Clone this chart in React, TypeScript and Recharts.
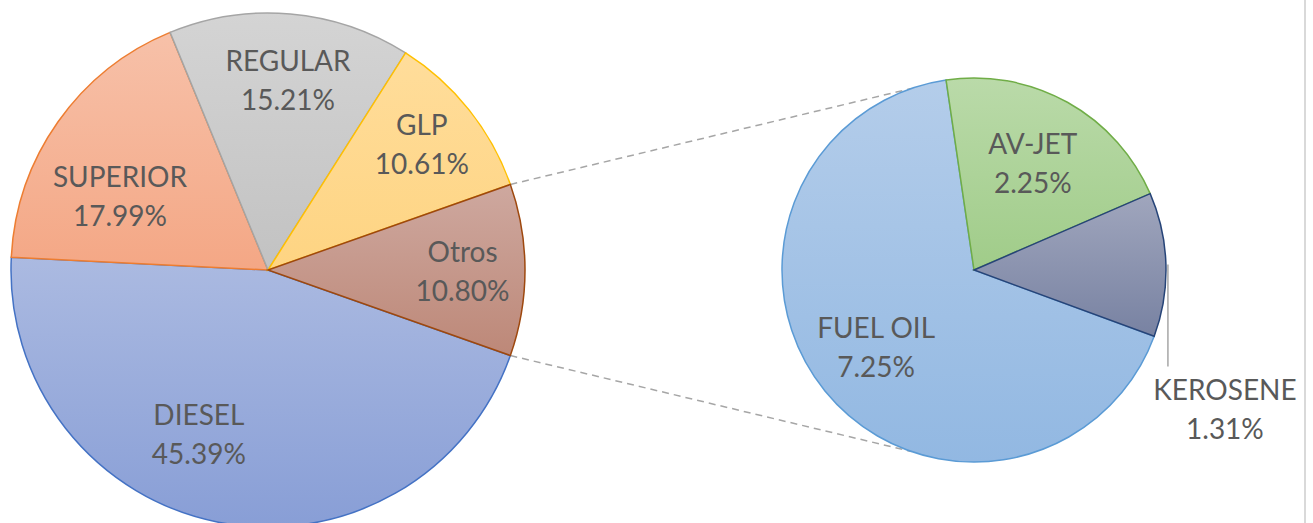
import { PieChart, Pie, Cell, Customized } from "recharts";

// main pie, clockwise from the lower edge of the "Otros" slice (Otros drawn last)
const mainNames = ["DIESEL", "SUPERIOR", "REGULAR", "GLP", "Otros"];
const mainValues = [45.39, 17.99, 15.21, 10.61, 10.8];

// breakdown of "Otros", clockwise from the lower right
const otrosNames = ["FUEL OIL", "AV-JET", "KEROSENE"];
const otrosValues = [7.25, 2.25, 1.31];

const mainData = mainNames.map((name, i) => ({ name, value: mainValues[i] }));
const otrosData = otrosNames.map((name, i) => ({ name, value: otrosValues[i] }));

const W = 1313;
const H = 523;
const LEFT = { cx: 268, cy: 270, r: 257 };
const RIGHT = { cx: 974, cy: 270, r: 192 };

const mainTotal = mainValues.reduce((a, b) => a + b, 0);
const otrosHalf = ((mainValues[mainValues.length - 1] / mainTotal) * 360) / 2;
const rightStart = -20.2;
const linkAngle = 109;

const TEXT = "#595959";
const FONT = "Lato, 'Open Sans', sans-serif";

// [gradient top, gradient bottom, outline]
const colors: Record<string, [string, string, string]> = {
  DIESEL: ["#abbae1", "#889ed6", "#4472c4"],
  SUPERIOR: ["#f7c1a9", "#f4a785", "#ed7d31"],
  REGULAR: ["#d4d4d4", "#c2c2c2", "#a5a5a5"],
  GLP: ["#ffdd9b", "#fed482", "#ffc000"],
  Otros: ["#cea89f", "#bd8878", "#9e480e"],
  "FUEL OIL": ["#b4cdea", "#92b8e2", "#5b9bd5"],
  "AV-JET": ["#badaa9", "#a0cc89", "#70ad47"],
  KEROSENE: ["#a0a6bd", "#7882a2", "#264478"],
};

// where each label sits: extra turn from the slice middle, share of the radius
const labelAt: Record<string, { turn: number; k: number }> = {
  Otros: { turn: 0, k: 0.757 },
  DIESEL: { turn: -11.8, k: 0.69 },
  SUPERIOR: { turn: 8.5, k: 0.645 },
  REGULAR: { turn: -1, k: 0.747 },
  GLP: { turn: 0.9, k: 0.775 },
  "AV-JET": { turn: 0.5, k: 0.64 },
  "FUEL OIL": { turn: -1.3, k: 0.645 },
};

const RAD = Math.PI / 180;
const polar = (cx: number, cy: number, r: number, deg: number) => ({
  x: cx + r * Math.cos(deg * RAD),
  y: cy - r * Math.sin(deg * RAD),
});

function TwoLines({ x, y, name, value }: { x: number; y: number; name: string; value: number }) {
  return (
    <g>
      <text x={x} y={y - 19} textAnchor="middle" dominantBaseline="central"
        fill={TEXT} fontFamily={FONT} fontSize={28}>{name}</text>
      <text x={x} y={y + 20} textAnchor="middle" dominantBaseline="central"
        fill={TEXT} fontFamily={FONT} fontSize={28}>{`${value.toFixed(2)}%`}</text>
    </g>
  );
}

function renderLabel(props: any) {
  const { cx, cy, midAngle, outerRadius, value } = props;
  const name: string = props.payload?.name ?? props.name;
  if (name === "KEROSENE") {
    const edge = polar(cx, cy, outerRadius, midAngle);
    const drop = 102;
    return (
      <g>
        <line x1={edge.x + 2} y1={edge.y} x2={edge.x + 2} y2={edge.y + drop}
          stroke="#a6a6a6" strokeWidth={1.5} />
        <TwoLines x={edge.x + 59} y={edge.y + drop + 41} name={name} value={value} />
      </g>
    );
  }
  const at = labelAt[name] ?? { turn: 0, k: 0.65 };
  const p = polar(cx, cy, outerRadius * at.k, midAngle + at.turn);
  return <TwoLines x={p.x} y={p.y} name={name} value={value} />;
}

function SeriesLines() {
  const a = polar(LEFT.cx, LEFT.cy, LEFT.r, otrosHalf);
  const b = polar(LEFT.cx, LEFT.cy, LEFT.r, -otrosHalf);
  const c = polar(RIGHT.cx, RIGHT.cy, RIGHT.r, linkAngle);
  const d = polar(RIGHT.cx, RIGHT.cy, RIGHT.r, -linkAngle);
  return (
    <g>
      <line x1={a.x} y1={a.y} x2={c.x} y2={c.y} stroke="#a6a6a6" strokeWidth={1.5} strokeDasharray="7 5" />
      <line x1={b.x} y1={b.y} x2={d.x} y2={d.y} stroke="#a6a6a6" strokeWidth={1.5} strokeDasharray="7 5" />
      <line x1={1305} y1={0} x2={1305} y2={H} stroke="#d9d9d9" strokeWidth={2} />
    </g>
  );
}

export default function App() {
  return (
    <div style={{ position: "absolute", left: 0, top: 0, width: W, height: H, background: "#fff" }}>
      <PieChart width={W} height={H} margin={{ top: 0, right: 0, bottom: 0, left: 0 }}>
        <defs>
          {Object.entries(colors).map(([k, [top, bottom]]) => (
            <linearGradient key={k} id={`g-${k.replace(/\W/g, "")}`} x1="0" y1="0" x2="0" y2="1">
              <stop offset="0%" stopColor={top} />
              <stop offset="100%" stopColor={bottom} />
            </linearGradient>
          ))}
        </defs>
        <Customized component={SeriesLines} />
        <Pie data={mainData} dataKey="value" nameKey="name" cx={LEFT.cx} cy={LEFT.cy}
          outerRadius={LEFT.r} startAngle={-otrosHalf} endAngle={-otrosHalf - 360}
          label={renderLabel} labelLine={false} isAnimationActive={false}>
          {mainData.map((d) => (
            <Cell key={d.name} fill={`url(#g-${d.name.replace(/\W/g, "")})`}
              stroke={colors[d.name][2]} strokeWidth={1.5} />
          ))}
        </Pie>
        <Pie data={otrosData} dataKey="value" nameKey="name" cx={RIGHT.cx} cy={RIGHT.cy}
          outerRadius={RIGHT.r} startAngle={rightStart} endAngle={rightStart - 360}
          label={renderLabel} labelLine={false} isAnimationActive={false}>
          {otrosData.map((d) => (
            <Cell key={d.name} fill={`url(#g-${d.name.replace(/\W/g, "")})`}
              stroke={colors[d.name][2]} strokeWidth={1.5} />
          ))}
        </Pie>
      </PieChart>
    </div>
  );
}
